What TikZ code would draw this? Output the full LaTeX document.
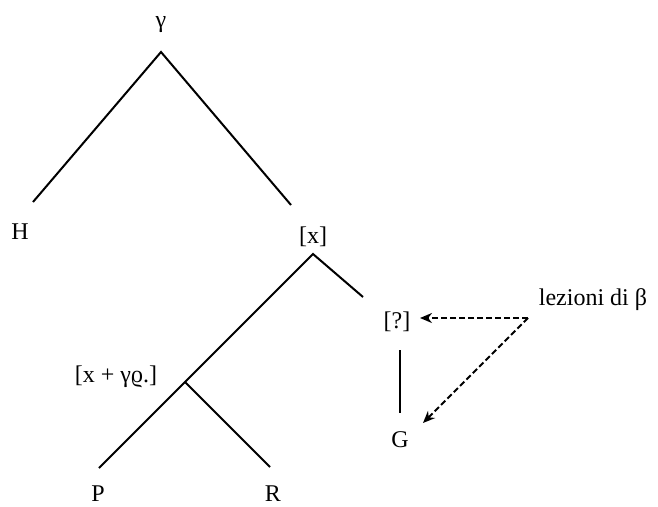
\documentclass[tikz,border=0pt]{standalone}
\usepackage{fontspec}
\usetikzlibrary{arrows.meta}
\setmainfont{Liberation Serif}
\begin{document}
\begin{tikzpicture}[x=1pt,y=-1pt,
  lbl/.style={font=\fontsize{24}{26}\selectfont, inner sep=0pt},
  edge/.style={line width=2pt},
  dasharrow/.style={line width=2pt, dash pattern=on 6pt off 3pt, -{Stealth[length=12pt,width=10pt]}}]
\useasboundingbox (0,0) rectangle (658,506);
\node[lbl] (g) at (161,25) {γ};
\node[lbl] (h) at (20,232) {H};
\node[lbl] (x) at (313,237) {[x]};
\node[lbl] (xg) at (116,377) {[x + γϱ.]};
\node[lbl] (q) at (397,322) {[?]};
\node[lbl] (G) at (400,440) {G};
\node[lbl] (p) at (98,494) {P};
\node[lbl] (r) at (273,494) {R};
\node[lbl] (lb) at (593,300) {lezioni di β};
\coordinate (ga) at (161,52);
\coordinate (he) at (33,202);
\coordinate (xe) at (291,205);
\coordinate (xa) at (313,254);
\coordinate (pe) at (99,468);
\coordinate (qe) at (363,297);
\coordinate (j) at (185,382);
\coordinate (re) at (270,467);
\coordinate (qt) at (400,350);
\coordinate (gt) at (400,413);
\coordinate (lo) at (528,318);
\coordinate (qa) at (420,318);
\coordinate (Ga) at (423,423);
\draw[edge] (he) -- (ga) -- (xe);
\draw[edge] (pe) -- (xa) -- (qe);
\draw[edge] (j) -- (re);
\draw[edge] (qt) -- (gt);
\draw[dasharrow] (lo) -- (qa);
\draw[dasharrow] (lo) -- (Ga);
\end{tikzpicture}
\end{document}
